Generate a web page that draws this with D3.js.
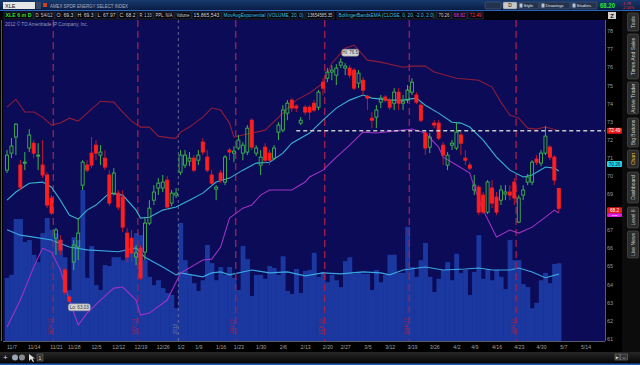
<!DOCTYPE html>
<html>
<head>
<meta charset="utf-8">
<script src="https://cdn.jsdelivr.net/npm/d3@7/dist/d3.min.js"></script>
<style>
  body { margin: 0; background: #000; overflow: hidden; }
  svg { display: block; font-family: "Liberation Sans", Arial, sans-serif; }
</style>
</head>
<body>
<svg id="chart" width="640" height="365"></svg>
<script>
// XLE daily bars 11/4/2011 .. 5/4/2012
// [open, high, low, close]
const ohlc = [
  [70.31,71.42,70.15,71.14],[71.25,72.08,70.97,71.64],[72.14,72.91,71.14,72.85],[70.59,70.86,69.21,69.37],
  [70.70,71.31,70.31,70.75],[71.53,72.58,71.31,72.25],[71.80,71.97,70.97,71.25],[71.09,71.80,70.31,71.14],
  [70.59,71.97,69.87,70.04],[70.04,70.20,68.21,68.38],[68.77,68.93,67.83,67.94],[66.55,67.11,65.62,67.00],
  [66.44,66.72,65.62,65.89],[64.79,64.90,63.41,63.57],[63.30,63.41,63.03,63.07],[65.23,66.44,64.79,66.17],
  [66.06,67.66,65.34,66.83],[69.48,70.86,69.21,70.75],[70.59,70.86,70.20,70.31],[71.25,72.14,70.42,70.59],
  [71.69,71.97,70.86,71.25],[71.14,71.69,70.59,71.31],[70.97,71.42,70.31,70.48],[70.04,70.31,68.32,68.49],
  [69.04,70.42,68.93,70.15],[69.04,69.21,68.10,68.27],[68.82,69.21,66.89,67.16],[66.83,67.11,65.23,65.51],
  [66.55,67.00,65.23,65.73],[65.51,66.17,65.06,65.73],[66.00,66.17,64.23,64.35],[65.78,67.66,65.34,67.38],
  [67.38,68.65,67.27,68.21],[68.65,69.48,68.38,69.10],[69.32,69.87,68.93,69.59],[69.32,70.04,69.10,69.65],
  [69.76,69.98,68.10,68.27],[68.49,69.21,68.32,69.04],[68.93,69.32,68.77,69.04],[70.20,71.42,70.04,71.14],
  [70.59,71.42,70.42,71.14],[70.81,71.31,70.53,70.97],[70.97,71.14,70.20,70.31],[70.86,71.42,70.59,71.14],
  [71.86,72.08,71.14,71.31],[71.03,71.42,70.20,70.31],[70.04,70.31,69.43,69.59],[69.26,69.48,68.65,69.37],
  [70.15,70.31,69.59,69.76],[69.65,71.14,69.48,71.03],[71.42,71.53,70.86,71.31],[71.25,71.64,70.75,71.36],
  [71.53,72.25,71.42,71.97],[71.25,71.86,70.86,71.69],[71.31,72.80,71.14,72.63],[73.07,73.18,71.42,71.58],
  [71.25,71.69,71.09,71.53],[70.59,71.42,70.04,71.03],[71.58,71.80,70.70,70.86],[71.25,71.42,70.59,70.86],
  [70.97,71.69,70.86,71.53],[72.41,72.96,71.97,72.80],[72.52,73.90,72.41,73.63],[73.46,74.18,73.07,74.01],
  [74.18,74.29,73.52,73.74],[73.85,73.96,73.52,73.74],[72.91,73.24,72.80,73.07],[73.79,73.90,73.35,73.52],
  [73.79,73.90,73.07,73.52],[74.01,74.18,73.52,73.63],[73.79,74.73,73.63,74.62],[75.17,75.39,74.46,74.84],
  [75.39,75.95,75.17,75.73],[75.73,76.11,75.28,75.84],[75.56,76.17,75.01,75.95],[76.11,76.50,75.95,76.28],
  [75.95,76.22,75.56,76.06],[75.95,76.11,75.39,75.56],[75.84,75.95,74.73,74.84],[75.12,75.84,74.84,75.67],
  [75.28,75.45,74.46,74.73],[74.40,74.46,73.63,74.29],[73.18,73.52,72.63,73.07],[73.24,73.90,72.63,73.63],
  [74.07,74.46,73.74,74.29],[74.35,74.46,74.07,74.18],[74.18,74.29,73.63,73.79],[74.01,74.84,73.63,74.62],
  [74.62,74.84,73.63,74.01],[74.01,74.46,73.63,74.12],[74.18,75.01,74.01,74.73],[74.62,75.39,74.46,75.17],
  [74.46,74.62,73.96,74.07],[73.90,74.01,72.96,73.07],[72.36,72.52,71.14,71.53],[71.58,72.36,71.25,72.14],
  [72.91,73.07,72.63,72.80],[72.91,73.07,71.97,72.08],[71.69,71.86,70.59,71.14],[70.59,71.31,70.31,71.14],
  [71.69,71.97,71.42,71.80],[71.53,72.96,71.42,72.41],[72.25,72.41,71.14,71.80],[70.97,71.42,70.59,70.86],
  [70.59,70.75,70.31,70.42],[69.21,70.04,68.93,69.48],[69.37,69.48,67.83,67.99],[68.93,69.10,67.88,67.99],
  [67.99,69.76,67.88,69.65],[69.32,69.76,68.21,68.49],[68.82,69.10,67.83,67.99],[68.65,69.48,68.38,69.21],
  [68.99,69.48,68.65,69.10],[69.10,69.48,68.65,68.93],[69.65,69.87,68.38,68.77],[67.44,68.93,67.38,68.77],
  [68.93,69.48,68.65,69.21],[69.65,70.09,69.48,69.93],[69.65,70.86,69.48,70.75],[70.92,71.14,70.59,70.75],
  [70.70,71.42,70.53,71.25],[71.25,72.74,71.14,72.19],[71.58,71.69,70.86,71.03],[71.03,71.14,69.48,69.76],
  [69.30,69.30,67.97,68.20]
];

// daily volume, millions
const volume = [
  12.9,13.5,24.9,24.9,20.2,20.6,17.6,16.1,22.0,25.1,22.7,22.0,20.6,17.1,10.4,21.2,20.6,30.8,12.9,19.4,
  11.4,10.4,15.5,15.3,17.1,17.1,16.5,18.4,18.2,22.0,21.6,16.5,13.1,11.4,12.4,10.8,9.8,9.4,6.7,24.1,
  16.5,13.5,11.8,10.2,12.4,19.6,15.9,12.4,15.1,13.5,15.1,12.9,10.4,19.4,16.7,9.2,13.5,13.5,12.7,15.3,
  14.9,13.5,17.3,10.2,9.6,14.7,9.8,14.3,14.5,18.0,13.1,14.1,12.0,13.5,12.4,11.0,16.3,17.1,13.7,14.1,
  13.7,13.7,10.4,14.5,12.0,13.5,17.6,17.6,13.9,13.9,23.3,15.1,13.1,16.5,20.0,13.1,10.0,12.7,14.5,16.1,
  12.4,17.8,13.9,14.5,9.4,14.1,21.6,12.7,14.7,12.4,14.5,13.1,10.6,20.6,16.5,16.5,11.6,11.0,6.7,7.8,
  12.4,13.9,11.8,15.7,15.87
];

// BollingerBandsEMA (CLOSE, 0, 20, -2.0, 2.0) as [bar index, price]
const bbUpper = [[0,73.79],[2,74.23],[4,73.52],[6,73.52],[8,73.24],[10,72.80],[12,72.91],[14,73.18],[16,73.02],
  [19,73.68],[21,74.12],[24,74.07],[26,73.52],[28,73.02],[30,72.69],[32,72.69],[34,72.19],[37,72.08],[38,72.08],
  [39,72.41],[41,72.69],[44,73.24],[46,73.74],[48,73.63],[50,72.91],[51,72.14],[55,72.36],[58,72.52],[62,73.46],
  [65,74.18],[68,74.57],[71,75.12],[73,76.22],[76,77.05],[78,77.22],[80,76.67],[81,76.39],[84,76.28],[89,76.00],
  [91,76.06],[94,76.06],[96,75.73],[101,75.39],[106,75.28],[109,74.90],[111,74.07],[113,73.35],[115,73.18],
  [117,72.63],[119,72.58],[121,72.69],[124,72.49]];
const bbMiddle = [[0,68.65],[2,69.10],[5,69.59],[8,69.65],[10,69.37],[12,68.65],[14,67.83],[16,67.60],[18,68.10],
  [20,68.38],[23,69.04],[26,68.93],[29,68.10],[30,67.66],[32,67.71],[35,68.10],[38,68.27],[41,68.65],[44,69.04],
  [47,69.65],[50,69.87],[53,70.31],[56,70.70],[59,70.75],[62,71.25],[64,71.80],[68,72.36],[71,73.07],[74,73.74],
  [77,74.18],[80,74.46],[82,74.29],[86,74.18],[89,74.18],[92,74.29],[94,73.90],[97,73.46],[100,72.96],[102,72.91],
  [104,72.69],[107,71.97],[110,71.03],[113,70.31],[116,69.93],[118,70.04],[121,70.48],[123,70.42],[124,70.26]];
const bbLower = [[0,61.64],[3,63.13],[6,64.95],[8,66.00],[10,65.78],[12,64.79],[14,63.13],[16,61.75],[18,62.41],
  [21,63.13],[24,63.79],[26,63.85],[29,63.13],[30,62.30],[32,62.41],[36,63.13],[39,64.62],[44,65.34],[46,65.39],
  [48,66.06],[50,67.66],[53,68.21],[55,68.38],[57,68.93],[59,69.21],[64,69.21],[67,69.65],[68,69.93],[71,70.31],
  [74,71.03],[77,71.69],[80,72.41],[83,72.36],[89,72.52],[91,72.58],[94,72.36],[97,71.58],[98,71.03],[101,70.59],
  [104,70.15],[105,69.37],[107,68.10],[110,66.61],[113,67.00],[115,66.83],[118,67.16],[121,67.71],[123,68.10],
  [124,67.94]];

// MovAvgExponential (VOLUME, 20, 0), [bar index, millions]
const volEma = [[0,22.7],[3,21.6],[6,21.2],[10,20.6],[14,19.2],[18,18.6],[25,18.2],[29,19.0],[31,17.1],[35,15.1],
  [38,13.5],[39,13.9],[44,13.1],[46,13.9],[48,14.1],[50,13.5],[55,14.5],[59,13.9],[63,14.1],[67,13.3],[71,13.9],
  [75,13.7],[80,14.1],[84,13.9],[86,13.5],[89,14.5],[94,15.1],[98,14.5],[103,14.7],[106,14.9],[109,14.5],
  [113,14.5],[115,14.9],[118,14.1],[121,12.9],[124,13.65]];

const priceTicks = [61,62,63,64,65,66,67,68,69,70,71,72,73,74,75,76,77,78];
const dateTicks = [1,6,11,15,20,25,30,35,39,43,48,52,57,62,67,72,76,81,86,91,96,101,105,110,115,120,125,130];
const dateLabels = ["11/7","11/14","11/21","11/28","12/5","12/12","12/19","12/26","1/2","1/9","1/16","1/23",
  "1/30","2/6","2/13","2/20","2/27","3/5","3/12","3/19","3/26","4/2","4/9","4/16","4/23","4/30","5/7","5/14"];
const expiryIdx = [10, 29, 51, 71, 90, 114];
const expiryLabels = ["NOV 11","DEC 11","JAN 12","FEB 12","MAR 12","APR 12"];
const yearBreakIdx = 38.5;
const alertLevel = 72.49, alertFromIdx = 65;
const hiIdx = 75, loIdx = 14;

const infoCells = [
  ["XLE 6 m D", 4, 33, "#35e035"], ["D: 5/4/12", 34, 54, "#d8d8d8"], ["O: 69.3", 55, 75, "#d8d8d8"],
  ["H: 69.3", 76, 95, "#d8d8d8"], ["L: 67.97", 96, 117, "#d8d8d8"], ["C: 68.2", 118, 137, "#d8d8d8"],
  ["R: 1.33", 138, 153, "#d8d8d8"], ["PPL: N/A", 154, 174, "#d8d8d8"], ["Volume", 175, 191, "#d8d8d8"],
  ["15,865,543", 192, 221, "#d8d8d8"], ["MovAvgExponential (VOLUME, 20, 0)", 222, 305, "#3cc8e8"],
  ["13654585.35", 306, 334, "#d8d8d8"], ["BollingerBandsEMA (CLOSE, 0, 20, -2.0, 2.0)", 337, 436, "#3cc8e8"],
  ["70.26", 437, 451, "#d8d8d8"], ["68.82", 452, 467, "#e040e0"], ["72.49", 468, 483, "#ff3a3a"]
];
const toolButtons = [["", 485, 16], ["D", 503, 14], ["Style", 518, 21], ["Drawings", 540, 30], ["Studies", 571, 26]];
const sideTabs = [["Tools",13,31],["Times And Sales",34,79],["Active Trader",82,114],["Big Buttons",118,147],
  ["Chart",150,168],["Dashboard",172,203],["Level II",207,228],["Live News",231,258]];

const svg = d3.select("#chart");
const plot = {left: 3, right: 605, top: 20, bottom: 341};

const x = d3.scaleLinear().domain([0, 130]).range([7, 7 + 130 * 4.45]);
const y = d3.scaleLinear().domain([61, 78]).range([338.6, 31]);
const yVol = d3.scaleLinear().domain([0, 26]).range([341, 341 - 26 * 4.9]);

svg.append("rect").attr("width", 640).attr("height", 365).attr("fill", "#000");

svg.append("clipPath").attr("id", "plotClip").append("rect")
  .attr("x", plot.left).attr("y", plot.top)
  .attr("width", plot.right - plot.left).attr("height", plot.bottom - plot.top);

svg.append("rect")
  .attr("x", plot.left).attr("y", plot.top)
  .attr("width", plot.right - plot.left).attr("height", plot.bottom - plot.top)
  .attr("fill", "#0b0b58");

const g = svg.append("g").attr("clip-path", "url(#plotClip)");

// volume bars
const slot = x(1) - x(0);
g.append("g").selectAll("rect")
  .data(volume)
  .join("rect")
  .attr("x", (d, i) => x(i) - slot / 2)
  .attr("width", slot + 0.4)
  .attr("y", d => yVol(d))
  .attr("height", d => yVol(0) - yVol(d))
  .attr("fill", "#1b38a0");

// volume ema
const line = d3.line().x(d => x(d[0]));
g.append("path")
  .attr("d", line.y(d => yVol(d[1]))(volEma))
  .attr("fill", "none").attr("stroke", "#3aa8e0").attr("stroke-width", 1.1);

// options expiration + year lines
g.append("g").selectAll("line")
  .data(expiryIdx)
  .join("line")
  .attr("x1", d => x(d + 0.4)).attr("x2", d => x(d + 0.4))
  .attr("y1", plot.top).attr("y2", plot.bottom)
  .attr("stroke", "#a5204c").attr("stroke-width", 1.3).attr("stroke-dasharray", "7,4");
g.append("g").selectAll("text")
  .data(expiryIdx)
  .join("text")
  .attr("transform", d => `translate(${x(d + 0.4) - 1.5},334) rotate(-90)`)
  .attr("font-size", 4.5).attr("fill", "#a5204c")
  .text((d, i) => expiryLabels[i]);
g.append("line")
  .attr("x1", x(yearBreakIdx)).attr("x2", x(yearBreakIdx))
  .attr("y1", plot.top).attr("y2", plot.bottom)
  .attr("stroke", "#7a7a9a").attr("stroke-width", 0.8).attr("stroke-dasharray", "3,3");
g.append("text")
  .attr("transform", `translate(${x(yearBreakIdx) - 1.5},334) rotate(-90)`)
  .attr("font-size", 4.5).attr("fill", "#7a7a9a").text("2012");

// bollinger bands
[[bbUpper, "#8e1c3a"], [bbMiddle, "#3cb4cc"], [bbLower, "#a032c4"]].forEach(([band, color]) => {
  g.append("path")
    .attr("d", line.y(d => y(d[1]))(band))
    .attr("fill", "none").attr("stroke", color).attr("stroke-width", 1.1);
});

// price level line
svg.append("line")
  .attr("x1", x(alertFromIdx)).attr("x2", plot.right)
  .attr("y1", y(alertLevel)).attr("y2", y(alertLevel))
  .attr("stroke", "#c8c8c8").attr("stroke-width", 1.6).attr("stroke-dasharray", "4,3");

// candles
const up = "#3fb44a", downFill = "#ff1f1f", downWick = "#c0182c";
const candles = g.append("g").selectAll("g")
  .data(ohlc)
  .join("g");
candles.append("line")
  .attr("x1", (d, i) => x(i)).attr("x2", (d, i) => x(i))
  .attr("y1", d => y(d[1])).attr("y2", d => y(Math.max(d[0], d[3])))
  .attr("stroke", d => d[3] >= d[0] ? up : downWick);
candles.append("line")
  .attr("x1", (d, i) => x(i)).attr("x2", (d, i) => x(i))
  .attr("y1", d => y(Math.min(d[0], d[3]))).attr("y2", d => y(d[2]))
  .attr("stroke", d => d[3] >= d[0] ? up : downWick);
candles.append("rect")
  .attr("x", (d, i) => x(i) - 1.5)
  .attr("width", 3)
  .attr("y", d => y(Math.max(d[0], d[3])))
  .attr("height", d => Math.max(1, y(Math.min(d[0], d[3])) - y(Math.max(d[0], d[3]))))
  .attr("fill", d => d[3] >= d[0] ? "none" : downFill)
  .attr("stroke", d => d[3] >= d[0] ? up : downFill)
  .attr("stroke-width", 0.9);

// hi / lo bubbles
function bubble(bx, by, txt, w) {
  svg.append("rect").attr("x", bx).attr("y", by).attr("width", w).attr("height", 7)
    .attr("rx", 2).attr("fill", "#d6d6d6").attr("stroke", "#888").attr("stroke-width", 0.5);
  svg.append("text").attr("x", bx + w / 2).attr("y", by + 5.2).attr("text-anchor", "middle")
    .attr("font-size", 4.6).attr("fill", "#333").text(txt);
}
bubble(x(hiIdx) + 1, y(ohlc[hiIdx][1]) - 9, "Hi: " + ohlc[hiIdx][1].toFixed(1), 17);
bubble(x(loIdx) - 1, y(ohlc[loIdx][2]) + 2, "Lo: " + ohlc[loIdx][2].toFixed(2), 22);

svg.append("text").attr("x", 5).attr("y", 26).attr("font-size", 4.5).attr("fill", "#9a9ab8")
  .attr("textLength", 83).attr("lengthAdjust", "spacingAndGlyphs")
  .text("2012 \u00a9 TD Ameritrade IP Company, Inc.");

// frame
svg.append("line").attr("x1", plot.right + 0.5).attr("x2", plot.right + 0.5)
  .attr("y1", plot.top).attr("y2", plot.bottom).attr("stroke", "#5a5a6a");
svg.append("line").attr("x1", plot.left).attr("x2", plot.right)
  .attr("y1", plot.bottom + 0.5).attr("y2", plot.bottom + 0.5).attr("stroke", "#5a5a6a");
svg.append("line").attr("x1", 1.5).attr("x2", 1.5)
  .attr("y1", plot.top).attr("y2", plot.bottom).attr("stroke", "#5a5a5a");

// right-hand value tags: [value, fill, text colour, centre y, height]
const lastClose = ohlc[ohlc.length - 1][3];
const tags = [
  [72.49, "#e81818", "#fff", y(72.49), 6],
  [bbMiddle[bbMiddle.length - 1][1], "#22d2e2", "#114", y(70.26) - 7, 6],
  [lastClose, "#e81818", "#fff", y(lastClose) + 2, 6],
  [68.82, "#e020e0", "#fff", y(lastClose) + 6.8, 3.6]
];

// axes (tick labels hidden where a value tag covers them)
const covered = v => tags.some(t => Math.abs(y(v) - t[3]) < 5);
const yAxis = svg.append("g").attr("transform", `translate(${plot.right},0)`)
  .call(d3.axisRight(y).tickValues(priceTicks.filter(v => !covered(v)))
    .tickSize(0).tickPadding(2).tickFormat(d3.format("d")));
yAxis.select(".domain").remove();
yAxis.selectAll("text").attr("font-size", 5.5).attr("fill", "#9a9a9a").attr("font-family", "Liberation Sans, Arial");

const xAxis = svg.append("g").attr("transform", `translate(0,${plot.bottom})`)
  .call(d3.axisBottom(x).tickValues(dateTicks).tickSize(0).tickPadding(4)
    .tickFormat((d, i) => dateLabels[i]));
xAxis.select(".domain").remove();
xAxis.selectAll("text").attr("font-size", 5.2).attr("fill", "#a0a0a0").attr("font-family", "Liberation Sans, Arial");

tags.forEach(([value, fill, txtColor, cy, h]) => {
  svg.append("rect").attr("x", plot.right + 2).attr("y", cy - h / 2)
    .attr("width", 15).attr("height", h).attr("rx", 1).attr("fill", fill);
  svg.append("text").attr("x", plot.right + 9.5).attr("y", cy + h / 2 - 1.2)
    .attr("text-anchor", "middle").attr("font-size", h - 1.3).attr("fill", txtColor)
    .text(String(+value.toFixed(2)));
});

// header
const defs = svg.append("defs");
const grad = defs.append("linearGradient").attr("id", "topGrad").attr("x1", 0).attr("x2", 0).attr("y1", 0).attr("y2", 1);
grad.append("stop").attr("offset", 0).attr("stop-color", "#173a70");
grad.append("stop").attr("offset", 1).attr("stop-color", "#0a1c40");
svg.append("rect").attr("width", 640).attr("height", 10.5).attr("fill", "url(#topGrad)");
svg.append("line").attr("x1", 0).attr("x2", 640).attr("y1", 10.5).attr("y2", 10.5).attr("stroke", "#2a62c0");
svg.append("rect").attr("x", 3).attr("y", 2).attr("width", 32).attr("height", 7).attr("fill", "#e6e6e6");
svg.append("text").attr("x", 5).attr("y", 7.6).attr("font-size", 5.5).attr("fill", "#111").text("XLE");
svg.append("rect").attr("x", 36).attr("y", 2).attr("width", 5).attr("height", 7).attr("fill", "#3a4a66");
svg.append("rect").attr("x", 43).attr("y", 3).attr("width", 4).attr("height", 4).attr("fill", "#d04020");
svg.append("text").attr("x", 50).attr("y", 7.6).attr("font-size", 5).attr("fill", "#a8b0c4")
  .attr("textLength", 78).attr("lengthAdjust", "spacingAndGlyphs").text("AMEX SPDR ENERGY SELECT INDEX");

toolButtons.forEach(([t, bx, w]) => {
  svg.append("rect").attr("x", bx).attr("y", 2).attr("width", w).attr("height", 7).attr("rx", 1)
    .attr("fill", t === "D" ? "#c8c8c8" : "#23324e").attr("stroke", "#56688a").attr("stroke-width", 0.5);
  if (!t) return;
  if (t === "D") {
    svg.append("text").attr("x", bx + w / 2).attr("y", 7.4).attr("text-anchor", "middle")
      .attr("font-size", 5).attr("fill", "#111").text(t);
    return;
  }
  svg.append("rect").attr("x", bx + 1.5).attr("y", 3.5).attr("width", 3).attr("height", 4).attr("fill", "#b8c4d8");
  svg.append("text").attr("x", bx + 5.5).attr("y", 7.3)
    .attr("font-size", 4.4).attr("fill", "#e0e0e0").text(t);
});
svg.append("text").attr("x", 600).attr("y", 8.2).attr("font-size", 6.5).attr("font-weight", "bold")
  .attr("textLength", 15).attr("lengthAdjust", "spacingAndGlyphs")
  .attr("fill", "#2ee82e").text("68.20");
svg.append("text").attr("x", 622).attr("y", 4.6).attr("font-size", 3.8).attr("fill", "#e83030").text("-1.78");
svg.append("text").attr("x", 622).attr("y", 9).attr("font-size", 3.8).attr("fill", "#e83030").text("-2.54%");

svg.append("rect").attr("x", 2).attr("y", 11.5).attr("width", 603).attr("height", 8).attr("fill", "#03030c");
infoCells.forEach(([t, x0, x1, c]) => {
  svg.append("rect").attr("x", x0).attr("y", 12).attr("width", x1 - x0).attr("height", 7)
    .attr("fill", "none").attr("stroke", "#34405e").attr("stroke-width", 0.6);
  svg.append("text").attr("x", x0 + 1.5).attr("y", 17.3).attr("font-size", 5).attr("fill", c)
    .attr("font-weight", t.startsWith("XLE") ? "bold" : "normal")
    .attr("textLength", x1 - x0 - 3).attr("lengthAdjust", "spacingAndGlyphs").text(t);
});
svg.append("rect").attr("x", 608).attr("y", 12).attr("width", 8).attr("height", 7).attr("fill", "#cfcfcf");
svg.append("text").attr("x", 612).attr("y", 17.6).attr("text-anchor", "middle").attr("font-size", 6)
  .attr("font-weight", "bold").attr("fill", "#111").text("Z");

// side tabs
svg.append("rect").attr("x", 622).attr("y", 11).attr("width", 18).attr("height", 341).attr("fill", "#0c0c0c");
sideTabs.forEach(([t, y0, y1]) => {
  svg.append("rect").attr("x", 627.5).attr("y", y0).attr("width", 11).attr("height", y1 - y0)
    .attr("rx", 1.5).attr("fill", "#2b2b2b").attr("stroke", "#555").attr("stroke-width", 0.6);
  svg.append("text")
    .attr("transform", `translate(${635},${(y0 + y1) / 2}) rotate(-90)`)
    .attr("text-anchor", "middle").attr("font-size", 5)
    .attr("fill", t === "Chart" ? "#e8b830" : "#d0d0d0").text(t);
});

// bottom toolbar
const bGrad = defs.append("linearGradient").attr("id", "botGrad").attr("x1", 0).attr("x2", 0).attr("y1", 0).attr("y2", 1);
bGrad.append("stop").attr("offset", 0).attr("stop-color", "#262626");
bGrad.append("stop").attr("offset", 1).attr("stop-color", "#050505");
svg.append("rect").attr("y", 352).attr("width", 640).attr("height", 11.5).attr("fill", "url(#botGrad)");
svg.append("rect").attr("y", 363.5).attr("width", 640).attr("height", 1.5).attr("fill", "#2060b8");
svg.append("text").attr("x", 3).attr("y", 360).attr("font-size", 8).attr("fill", "#ddd").text("+");
[[15, "#9aa8b8"], [22, "#8a8a8a"]].forEach(([cx, c]) => {
  svg.append("circle").attr("cx", cx).attr("cy", 357.5).attr("r", 3).attr("fill", c);
});
svg.append("path").attr("d", "M29,354 L29,361 L31,359 L33,362 L34,361.5 L32.5,358.5 L35,358.5 Z").attr("fill", "#ddd");
svg.append("rect").attr("x", 37).attr("y", 354).attr("width", 6).attr("height", 7).attr("fill", "#333").attr("stroke", "#777").attr("stroke-width", 0.5);
svg.append("text").attr("x", 40).attr("y", 359.8).attr("text-anchor", "middle").attr("font-size", 5).attr("fill", "#ddd").text("1");
svg.append("rect").attr("x", 615).attr("y", 354).attr("width", 5).attr("height", 6).attr("fill", "#333").attr("stroke", "#888").attr("stroke-width", 0.5);
svg.append("rect").attr("x", 620.5).attr("y", 354).attr("width", 7).attr("height", 6).attr("fill", "#333").attr("stroke", "#888").attr("stroke-width", 0.5);
svg.append("text").attr("x", 617.5).attr("y", 358.8).attr("text-anchor", "middle").attr("font-size", 4.5).attr("fill", "#eee").text("\u25B8");
svg.append("text").attr("x", 624).attr("y", 359).attr("text-anchor", "middle").attr("font-size", 5).attr("fill", "#eee").text("\u21D4");
</script>
</body>
</html>
